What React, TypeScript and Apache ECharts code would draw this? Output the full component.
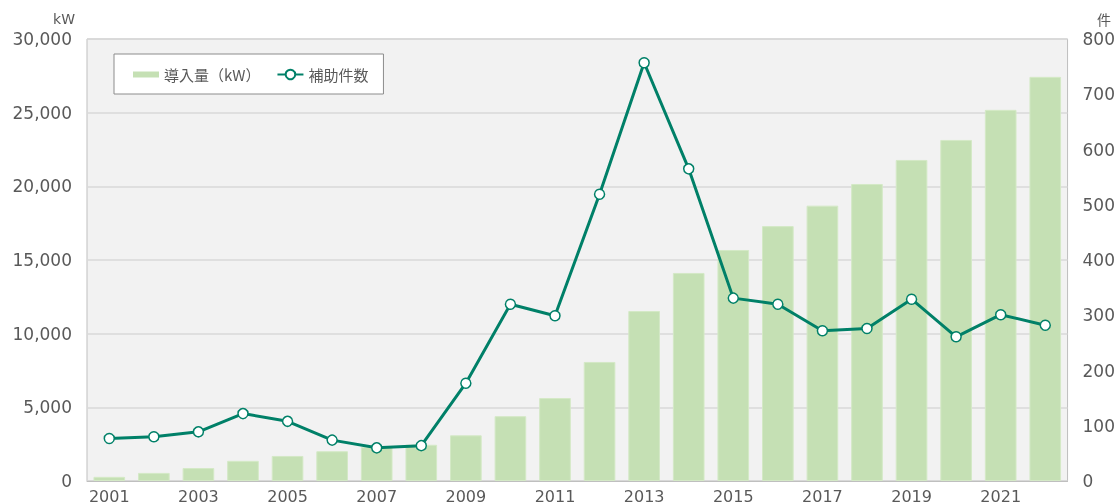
import React, { useEffect, useRef } from "react";
import * as echarts from "echarts";

const years = ["2001","2002","2003","2004","2005","2006","2007","2008","2009","2010","2011","2012","2013","2014","2015","2016","2017","2018","2019","2020","2021","2022"];
const capacityKW = [280, 550, 880, 1370, 1700, 2020, 2300, 2460, 3100, 4400, 5630, 8080, 11540, 14120, 15680, 17300, 18690, 20160, 21790, 23150, 25190, 27430];
const subsidyCount = [77, 80, 89, 122, 108, 74, 60, 64, 177, 320, 299, 519, 757, 565, 331, 320, 272, 276, 329, 261, 301, 282];
const leftTicks = [0, 5000, 10000, 15000, 20000, 25000, 30000];
const rightTicks = [0, 100, 200, 300, 400, 500, 600, 700, 800];

const CJK = "'Noto Sans CJK JP', 'Noto Sans', sans-serif";
const NUM = "'DejaVu Sans', sans-serif";
const TXT = "#595959";
const BAR = "#c5e0b4";
const LINE = "#008068";

export default function App() {
  const ref = useRef<HTMLDivElement>(null);
  useEffect(() => {
    if (!ref.current) return;
    const chart = echarts.init(ref.current, undefined, { renderer: "svg" });
    chart.setOption({
      animation: false,
      textStyle: { fontFamily: CJK, color: TXT },
      grid: {
        left: 87, right: 50, top: 39, bottom: 23,
        show: true, backgroundColor: "#f2f2f2", borderColor: "#bfbfbf", borderWidth: 1,
      },
      legend: {
        left: 114, top: 54,
        backgroundColor: "#ffffff", borderColor: "#8c8c8c", borderWidth: 1,
        padding: [13, 15, 12, 19], itemGap: 16,
        textStyle: { fontFamily: CJK, fontSize: 15, color: TXT },
        itemWidth: 26, itemHeight: 12,
        data: [
          {
            name: "導入量（kW）",
            icon: "path://M0,0L0,0M0,3H26V9H0Z M0,12L0,12",
            itemStyle: { color: BAR, borderWidth: 0 },
          },
          { name: "補助件数" },
        ],
      },
      graphic: [
        { type: "text", right: 1118 - 75, top: 12, style: { text: "kW", fontFamily: NUM, fontSize: 14, fill: TXT, textAlign: "right" } },
        { type: "text", left: 1097, top: 12, style: { text: "件", fontFamily: CJK, fontSize: 14, fill: TXT } },
      ],
      xAxis: {
        type: "category", data: years,
        axisLine: { show: true, lineStyle: { color: "#bfbfbf" } },
        axisTick: { show: false },
        axisLabel: { interval: 1, fontFamily: NUM, fontSize: 16, lineHeight: 16, color: TXT, margin: 7 },
      },
      yAxis: [
        {
          type: "value", min: leftTicks[0], max: leftTicks[leftTicks.length - 1], interval: 5000,
          axisLine: { show: false }, axisTick: { show: false },
          splitLine: { lineStyle: { color: "#d9d9d9", width: 1.5 } },
          axisLabel: {
            fontFamily: NUM, fontSize: 17, color: TXT, margin: 15,
            formatter: (v: number) => v.toLocaleString("en-US"),
          },
        },
        {
          type: "value", min: rightTicks[0], max: rightTicks[rightTicks.length - 1], interval: 100,
          axisLine: { show: false }, axisTick: { show: false }, splitLine: { show: false },
          axisLabel: { fontFamily: NUM, fontSize: 17, color: TXT, margin: 15 },
        },
      ],
      series: [
        {
          name: "導入量（kW）", type: "bar", data: capacityKW, yAxisIndex: 0,
          barWidth: "71%",
          itemStyle: { color: BAR, borderColor: "#d4e9c6", borderWidth: 1 },
        },
        {
          name: "補助件数", type: "line", data: subsidyCount, yAxisIndex: 1,
          symbol: "circle", symbolSize: 10,
          lineStyle: { color: LINE, width: 3 },
          itemStyle: { color: "#ffffff", borderColor: LINE, borderWidth: 1.5 },
        },
      ],
    });
    return () => chart.dispose();
  }, []);
  return <div ref={ref} style={{ position: "fixed", left: 0, top: 0, width: 1118, height: 504 }} />;
}
